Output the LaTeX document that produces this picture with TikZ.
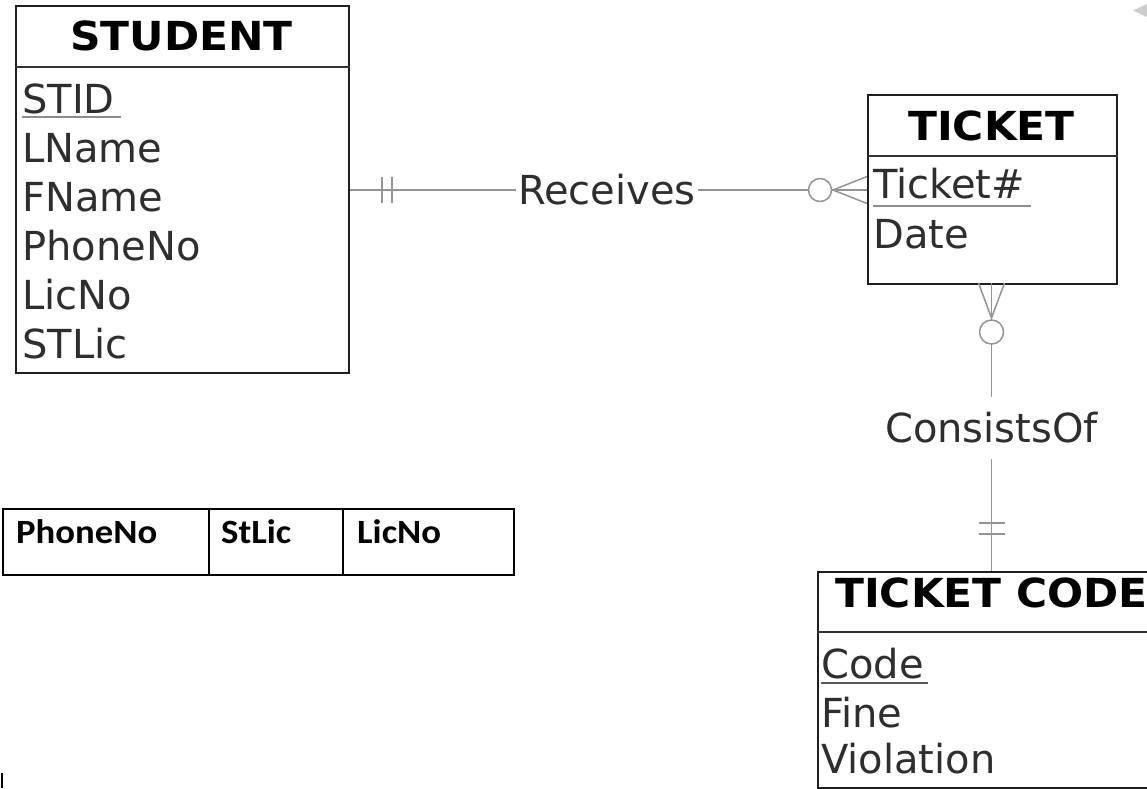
\documentclass[tikz,border=0pt]{standalone}
\usepackage{fontspec}
\usepackage{graphicx}
\setmainfont{DejaVu Sans}
\newfontfamily\calib{Carlito}
\newcommand{\hw}[1]{\scalebox{1.06}[1]{#1}}
\newcommand{\cw}[1]{\scalebox{1.08}[1]{#1}}
\begin{document}
\begin{tikzpicture}[x=1pt,y=-1pt,
  entity/.style={draw=black!88, line width=1.6pt, anchor=north west, inner sep=0pt},
  entline/.style={draw=black!80, line width=1.6pt},
  hdr/.style={font=\fontsize{40}{40}\selectfont\bfseries, text=black, inner sep=0pt},
  attr/.style={font=\fontsize{40}{40}\selectfont, text=black!82, anchor=base west, inner sep=0pt},
  rel/.style={font=\fontsize{40}{40}\selectfont, text=black!82, inner xsep=2pt, inner ysep=15pt},
  conn/.style={draw=black!42, line width=1.5pt},
  uline/.style={draw=black!45, line width=1.6pt},
  cell/.style={draw=black, line width=1.6pt, anchor=north west, inner sep=0pt},
  celltext/.style={font=\calib\fontsize{34}{34}\selectfont\bfseries, anchor=base west, inner sep=0pt}
]
\useasboundingbox (0,0) rectangle (1147,788);
\clip (0,0) rectangle (1147,788);

% STUDENT
\node[entity, minimum width=333pt, minimum height=367pt] (student) at (15,5) {};
\draw[entline] (student.west |- 0,67) -- (student.east |- 0,67);
\node[hdr] (sthdr) at (181.5,36) {\hw{STUDENT}};
\node[attr] (stid) at (22,113) {STID};
\node[attr] (lname) at (22,162) {LName};
\node[attr] (fname) at (22,211) {FName};
\node[attr] (phone) at (22,260) {PhoneNo};
\node[attr] (licno) at (22,309) {LicNo};
\node[attr] (stlic) at (22,358) {STLic};
\draw[uline] ([yshift=-4pt]stid.base west) -- ([yshift=-4pt,xshift=6pt]stid.base east);

% TICKET
\node[entity, minimum width=249pt, minimum height=189pt] (ticket) at (867,94) {};
\draw[entline] (ticket.west |- 0,156) -- (ticket.east |- 0,156);
\node[hdr] (tkhdr) at (991.5,126) {\hw{TICKET}};
\node[attr] (tnum) at (873,198) {Ticket\#};
\node[attr] (tdate) at (873,248) {Date};
\draw[uline] ([yshift=-8pt]tnum.base west) -- ([yshift=-8pt,xshift=6pt]tnum.base east);

% TICKET CODE
\node[entity, minimum width=343pt, minimum height=216pt] (tcode) at (817,571) {};
\draw[entline] (tcode.west |- 0,632) -- (tcode.east |- 0,632);
\node[hdr, anchor=base west] (tchdr) at (835,607) {\hw{TICKET CODE}};
\node[attr] (code) at (821,678) {Code};
\node[attr] (fine) at (821,727) {Fine};
\node[attr] (viol) at (821,773) {Violation};
\draw[uline, draw=black!65] ([yshift=-5pt]code.base west) -- ([yshift=-5pt,xshift=4pt]code.base east);

% Receives relationship
\coordinate (rs) at (student.east |- 0,190);
\coordinate (rt) at (ticket.west |- 0,190);
\node[rel] (recv) at (607,190) {Receives};
\draw[conn] (rs) -- (recv.west);
\draw[conn] (recv.east) -- (rt);
% one and only one at STUDENT end
\draw[conn] (382,177) -- (382,203);
\draw[conn] (392,177) -- (392,203);
% zero or many at TICKET end
\draw[conn, fill=white] (820,190) circle (11.5);
\draw[conn] (833,190) -- (rt |- 0,176.5);
\draw[conn] (833,190) -- (rt |- 0,203.5);

% ConsistsOf relationship
\coordinate (ct) at (991.5,283);
\coordinate (cc) at (991.5,571);
\node[rel] (cons) at (991.5,428) {ConsistsOf};
\draw[conn] (ct) -- (cons.north);
\draw[conn] (cons.south) -- (cc);
% zero or many at TICKET end
\draw[conn] (978.5,283) -- (991.5,318);
\draw[conn] (1004.5,283) -- (991.5,318);
\draw[conn, fill=white] (991.5,332) circle (12);
% one and only one at TICKET CODE end
\draw[conn] (978.5,523) -- (1004.5,523);
\draw[conn] (978.5,534) -- (1004.5,534);

% small table
\node[cell, minimum width=206pt, minimum height=66pt] (c1) at (2,508) {};
\node[cell, minimum width=134pt, minimum height=66pt] (c2) at (208,508) {};
\node[cell, minimum width=171pt, minimum height=66pt] (c3) at (342,508) {};
\node[celltext] (t1) at (16,543) {\cw{PhoneNo}};
\node[celltext] (t2) at (221,543) {\cw{StLic}};
\node[celltext] (t3) at (357,543) {\cw{LicNo}};

% stray marks at the edges
\draw[black, line width=2pt] (2,773) -- (2,788);
\fill[black!20] (1147,4) -- (1133,10.5) -- (1147,17) -- cycle;
\end{tikzpicture}
\end{document}
